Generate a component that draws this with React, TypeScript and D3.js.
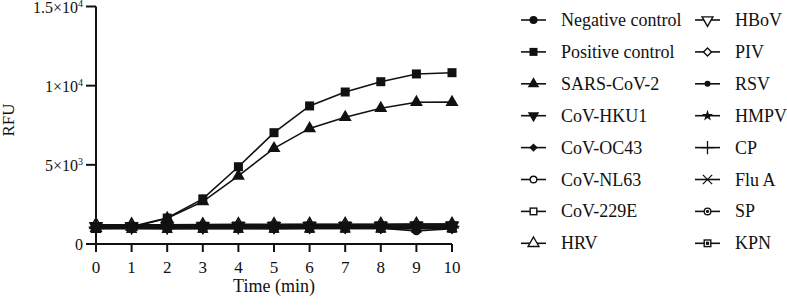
import React from "react";
import * as d3 from "d3";

const times = [0, 1, 2, 3, 4, 5, 6, 7, 8, 9, 10];
const xTicks = [0, 1, 2, 3, 4, 5, 6, 7, 8, 9, 10];
const yTicks = [0, 5000, 10000, 15000];
const yTickMant = ["0", "5", "1", "1.5"];
const yTickExp = ["", "3", "4", "4"];

const seriesNames = [
  "Negative control", "Positive control", "SARS-CoV-2", "CoV-HKU1", "CoV-OC43", "CoV-NL63",
  "CoV-229E", "HRV", "HBoV", "PIV", "RSV", "HMPV", "CP", "Flu A", "SP", "KPN",
];
const seriesMarkers = [
  "circleF", "squareF", "triUpF", "triDownF", "diamondF", "circleO",
  "squareO", "triUpO", "triDownO", "diamondO", "dotF", "starF", "plus", "times", "circleDot", "squareDot",
];

const negativeControl = [1000, 1000, 980, 990, 980, 980, 990, 990, 990, 830, 960];
const positiveControl = [1000, 1100, 1640, 2850, 4880, 7030, 8720, 9600, 10250, 10740, 10820];
const sarsCov2 = [1000, 1060, 1620, 2680, 4300, 6040, 7300, 8000, 8570, 8950, 8960];
const covHku1 = [1150, 1150, 1160, 1170, 1180, 1180, 1190, 1190, 1200, 1200, 1200];
const covOc43 = [1180, 1180, 1190, 1190, 1200, 1210, 1210, 1220, 1220, 1220, 1230];
const covNl63 = [1000, 1010, 1000, 1000, 990, 1000, 1000, 1000, 1010, 1000, 1000];
const cov229e = [980, 990, 990, 980, 990, 990, 990, 1000, 1000, 990, 1000];
const hrv = [1200, 1200, 1200, 1210, 1220, 1220, 1230, 1230, 1230, 1240, 1240];
const hbov = [1100, 1100, 1110, 1110, 1120, 1120, 1130, 1130, 1130, 1140, 1140];
const piv = [1050, 1050, 1060, 1060, 1060, 1070, 1070, 1070, 1080, 1080, 1080];
const rsv = [1020, 1020, 1030, 1030, 1030, 1040, 1040, 1040, 1050, 1050, 1050];
const hmpv = [1220, 1220, 1220, 1230, 1240, 1240, 1250, 1250, 1250, 1260, 1260];
const cp = [1060, 1070, 1070, 1080, 1080, 1090, 1090, 1100, 1100, 1100, 1110];
const fluA = [1030, 1040, 1040, 1050, 1050, 1050, 1060, 1060, 1060, 1070, 1070];
const sp = [960, 970, 970, 960, 970, 970, 980, 980, 980, 960, 980];
const kpn = [990, 1000, 1000, 990, 1000, 1000, 1000, 1010, 1010, 1000, 1010];

const seriesValues = [
  negativeControl, positiveControl, sarsCov2, covHku1, covOc43, covNl63,
  cov229e, hrv, hbov, piv, rsv, hmpv, cp, fluA, sp, kpn,
];

const FONT = "'Liberation Serif', 'Times New Roman', serif";

function Marker({ type, x, y, s }: { type: string; x: number; y: number; s: number }) {
  const sym = (t: d3.SymbolType, area: number) => d3.symbol(t, area)() as string;
  const a = s * s;
  const tr = `translate(${x},${y})`;
  switch (type) {
    case "circleF":
      return <circle cx={x} cy={y} r={s / 2} fill="#111" />;
    case "squareF":
      return <rect x={x - s / 2} y={y - s / 2} width={s} height={s} fill="#111" />;
    case "triUpF":
      return <path transform={tr} d={sym(d3.symbolTriangle, a * 0.9)} fill="#111" />;
    case "triDownF":
      return <path transform={`${tr} rotate(180)`} d={sym(d3.symbolTriangle, a * 0.9)} fill="#111" />;
    case "diamondF":
      return <path transform={`${tr} rotate(45)`} d={sym(d3.symbolSquare, a * 0.55)} fill="#111" />;
    case "circleO":
      return <circle cx={x} cy={y} r={s / 2 - 0.7} fill="#fff" stroke="#111" strokeWidth={1.4} />;
    case "squareO":
      return <rect x={x - s / 2 + 0.7} y={y - s / 2 + 0.7} width={s - 1.4} height={s - 1.4} fill="#fff" stroke="#111" strokeWidth={1.4} />;
    case "triUpO":
      return <path transform={tr} d={sym(d3.symbolTriangle, a * 0.8)} fill="#fff" stroke="#111" strokeWidth={1.4} />;
    case "triDownO":
      return <path transform={`${tr} rotate(180)`} d={sym(d3.symbolTriangle, a * 0.8)} fill="#fff" stroke="#111" strokeWidth={1.4} />;
    case "diamondO":
      return <path transform={`${tr} rotate(45)`} d={sym(d3.symbolSquare, a * 0.5)} fill="#fff" stroke="#111" strokeWidth={1.4} />;
    case "dotF":
      return <circle cx={x} cy={y} r={s / 2 - 1} fill="#111" />;
    case "starF":
      return <path transform={tr} d={sym(d3.symbolStar, a * 0.6)} fill="#111" />;
    case "plus":
      return <path transform={tr} d={sym(d3.symbolPlus, a * 0.9)} fill="none" stroke="#111" strokeWidth={1.3} />;
    case "times":
      return <path transform={tr} d={sym(d3.symbolTimes, a * 0.9)} fill="none" stroke="#111" strokeWidth={1.3} />;
    case "circleDot":
      return (
        <g>
          <circle cx={x} cy={y} r={s / 2 - 0.7} fill="#fff" stroke="#111" strokeWidth={1.4} />
          <circle cx={x} cy={y} r={s / 5} fill="#111" />
        </g>
      );
    case "squareDot":
      return (
        <g>
          <rect x={x - s / 2 + 0.7} y={y - s / 2 + 0.7} width={s - 1.4} height={s - 1.4} fill="#fff" stroke="#111" strokeWidth={1.4} />
          <rect x={x - s / 5} y={y - s / 5} width={(2 * s) / 5} height={(2 * s) / 5} fill="#111" />
        </g>
      );
    default:
      return null;
  }
}

export default function App() {
  const W = 787;
  const H = 306;
  const x = d3.scaleLinear().domain([0, 10]).range([96, 452]);
  const y = d3.scaleLinear().domain([0, 15000]).range([244, 6.5]);
  const line = d3
    .line<number>()
    .x((_, i) => x(times[i]))
    .y((d) => y(d));

  // draw order: open baselines first, then filled baselines, then SARS, then positive control on top
  const order = [5, 6, 7, 8, 9, 12, 13, 14, 15, 10, 11, 3, 4, 0, 2, 1];

  const legendRowY = (i: number) => 20 + i * 31.9;
  const legendCols = [
    { lx1: 521, lx2: 546, tx: 561 },
    { lx1: 695, lx2: 720, tx: 735 },
  ];

  return (
    <svg
      width={W}
      height={H}
      style={{ position: "absolute", left: 0, top: 0, background: "#fff" }}
      fontFamily={FONT}
    >
      <rect width={W} height={H} fill="#fff" />
      {/* series */}
      {order.map((si) => (
        <g key={si}>
          <path d={line(seriesValues[si]) as string} fill="none" stroke="#111" strokeWidth={1.6} />
          {seriesValues[si].map((v, i) => (
            <Marker key={i} type={seriesMarkers[si]} x={x(times[i])} y={y(v)} s={9} />
          ))}
        </g>
      ))}

      {/* y axis */}
      <line x1={x(0)} x2={x(0)} y1={y(0)} y2={y(15000)} stroke="#111" strokeWidth={2} />
      {yTicks.map((t, i) => (
        <g key={t}>
          <line x1={x(0) - 10} x2={x(0)} y1={y(t)} y2={y(t)} stroke="#111" strokeWidth={2} />
          <text x={83} y={y(t) + 6} textAnchor="end" fontSize={16} fill="#111">
            {yTickExp[i] ? (
              <>
                {yTickMant[i]}×10
                <tspan fontSize={10} dy={-6}>{yTickExp[i]}</tspan>
              </>
            ) : (
              yTickMant[i]
            )}
          </text>
        </g>
      ))}
      {/* x axis */}
      <line x1={x(0)} x2={x(10)} y1={y(0)} y2={y(0)} stroke="#111" strokeWidth={2} />
      {xTicks.map((t) => (
        <g key={t}>
          <line x1={x(t)} x2={x(t)} y1={y(0)} y2={y(0) + 8} stroke="#111" strokeWidth={2} />
          <text x={x(t)} y={273} textAnchor="middle" fontSize={17} fill="#111">
            {t}
          </text>
        </g>
      ))}
      <text x={x(5)} y={292} textAnchor="middle" fontSize={18} fill="#111">
        Time (min)
      </text>
      <text transform={`translate(14,120) rotate(-90)`} textAnchor="middle" fontSize={17} fill="#111">
        RFU
      </text>

      {/* legend */}
      {seriesNames.map((name, i) => {
        const col = legendCols[Math.floor(i / 8)];
        const row = i % 8;
        const cy = legendRowY(row);
        const cx = (col.lx1 + col.lx2) / 2;
        return (
          <g key={name}>
            <line x1={col.lx1} x2={col.lx2} y1={cy} y2={cy} stroke="#111" strokeWidth={1.6} />
            <Marker type={seriesMarkers[i]} x={cx} y={cy} s={8} />
            <text x={col.tx} y={cy + 6} fontSize={18} fill="#111">
              {name}
            </text>
          </g>
        );
      })}
    </svg>
  );
}
